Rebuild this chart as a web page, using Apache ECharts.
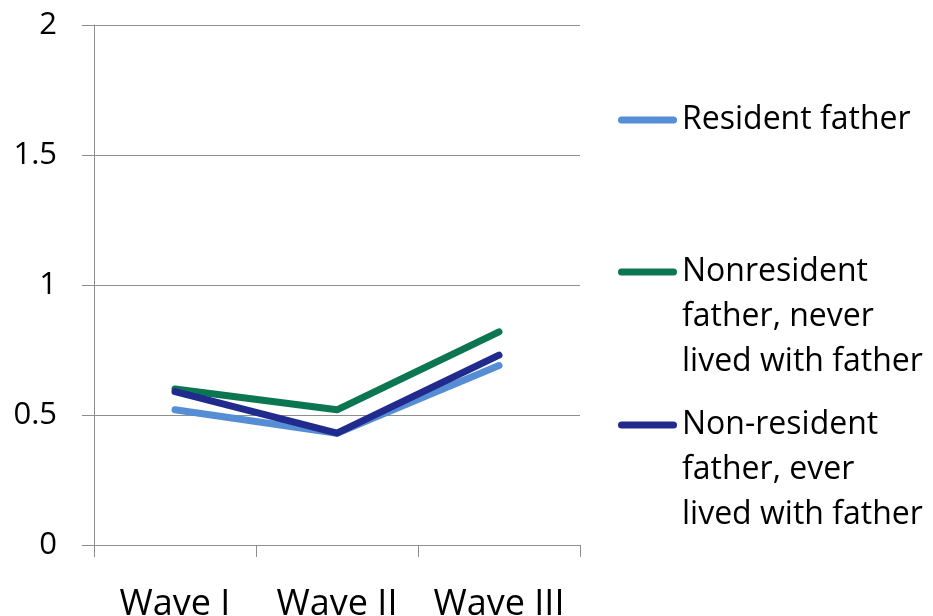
<!DOCTYPE html>
<html>
<head>
<meta charset="utf-8">
<script src="https://cdn.jsdelivr.net/npm/echarts@6/dist/echarts.min.js"></script>
<style>
  html, body { margin: 0; padding: 0; background: #fff; }
  #chart { width: 933px; height: 616px; }
</style>
</head>
<body>
<div id="chart"></div>
<script>
// Survey waves on the category axis
const waves = ['Wave I', 'Wave II', 'Wave III'];

// Mean values per wave for each father-residence group
const residentFather = [0.52, 0.43, 0.69];
const nonresidentNeverLived = [0.60, 0.52, 0.82];
const nonresidentEverLived = [0.59, 0.43, 0.73];

// Series names as shown in the legend
const seriesNames = [
  'Resident father',
  'Nonresident father, never lived with father',
  'Non-resident father, ever lived with father'
];
// Legend text, wrapped onto several lines
const legendText = {
  'Resident father': 'Resident father',
  'Nonresident father, never lived with father': 'Nonresident\nfather, never\nlived with father',
  'Non-resident father, ever lived with father': 'Non-resident\nfather, ever\nlived with father'
};

const colors = ['#558ED5', '#0B7650', '#212B8E'];
const FONT = 'Open Sans';
const gridColor = '#8E8E8E';

// Rounded bar used as the legend key
const capsule = 'path://M3.5,0 H55.5 A3.5,3.5 0 0 1 55.5,7 H3.5 A3.5,3.5 0 0 1 3.5,0 Z';
const legendLineHeight = 45;

function makeLegend(name, centerY) {
  const lines = legendText[name].split('\n').length;
  // pad with empty lines above so the first text line sits level with the key
  const pad = lines - 1;
  const total = lines + pad;
  return {
    data: [name],
    left: 618,
    top: centerY - (total * legendLineHeight) / 2,
    padding: 0,
    orient: 'vertical',
    selectedMode: false,
    icon: capsule,
    itemWidth: 59,
    itemHeight: 7,
    formatter: function (n) { return '\n'.repeat(pad) + legendText[n]; },
    textStyle: {
      fontFamily: FONT,
      fontSize: 32,
      color: '#000',
      lineHeight: legendLineHeight
    }
  };
}

const chart = echarts.init(document.getElementById('chart'), null, { renderer: 'canvas' });

chart.setOption({
  animation: false,
  backgroundColor: '#ffffff',
  color: colors,
  grid: {
    left: 94, right: 353, top: 25, bottom: 71,
    containLabel: false,
    outerBoundsMode: 'none'
  },
  legend: [
    makeLegend(seriesNames[0], 120),
    makeLegend(seriesNames[1], 272),
    makeLegend(seriesNames[2], 425)
  ],
  xAxis: {
    type: 'category',
    data: waves,
    boundaryGap: true,
    axisLine: { show: true, lineStyle: { color: gridColor, width: 1 } },
    axisTick: { show: true, length: 12, lineStyle: { color: gridColor, width: 1 } },
    axisLabel: {
      interval: 0,
      hideOverlap: false,
      margin: 42,
      fontFamily: FONT,
      fontSize: 36,
      color: '#000'
    },
    splitLine: { show: false }
  },
  yAxis: {
    type: 'value',
    min: 0,
    max: 2,
    interval: 0.5,
    axisLine: { show: true, lineStyle: { color: gridColor, width: 1 } },
    axisTick: { show: true, length: 12, lineStyle: { color: gridColor, width: 1 } },
    axisLabel: { margin: 37, fontFamily: FONT, fontSize: 31, color: '#000' },
    splitLine: { show: true, lineStyle: { color: gridColor, width: 1 } }
  },
  series: [
    { name: seriesNames[0], data: residentFather },
    { name: seriesNames[1], data: nonresidentNeverLived },
    { name: seriesNames[2], data: nonresidentEverLived }
  ].map(function (s, i) {
    return {
      name: s.name,
      type: 'line',
      data: s.data,
      symbol: 'none',
      lineStyle: { width: 7, color: colors[i], cap: 'round', join: 'round' },
      itemStyle: { color: colors[i] }
    };
  })
});
</script>
</body>
</html>
